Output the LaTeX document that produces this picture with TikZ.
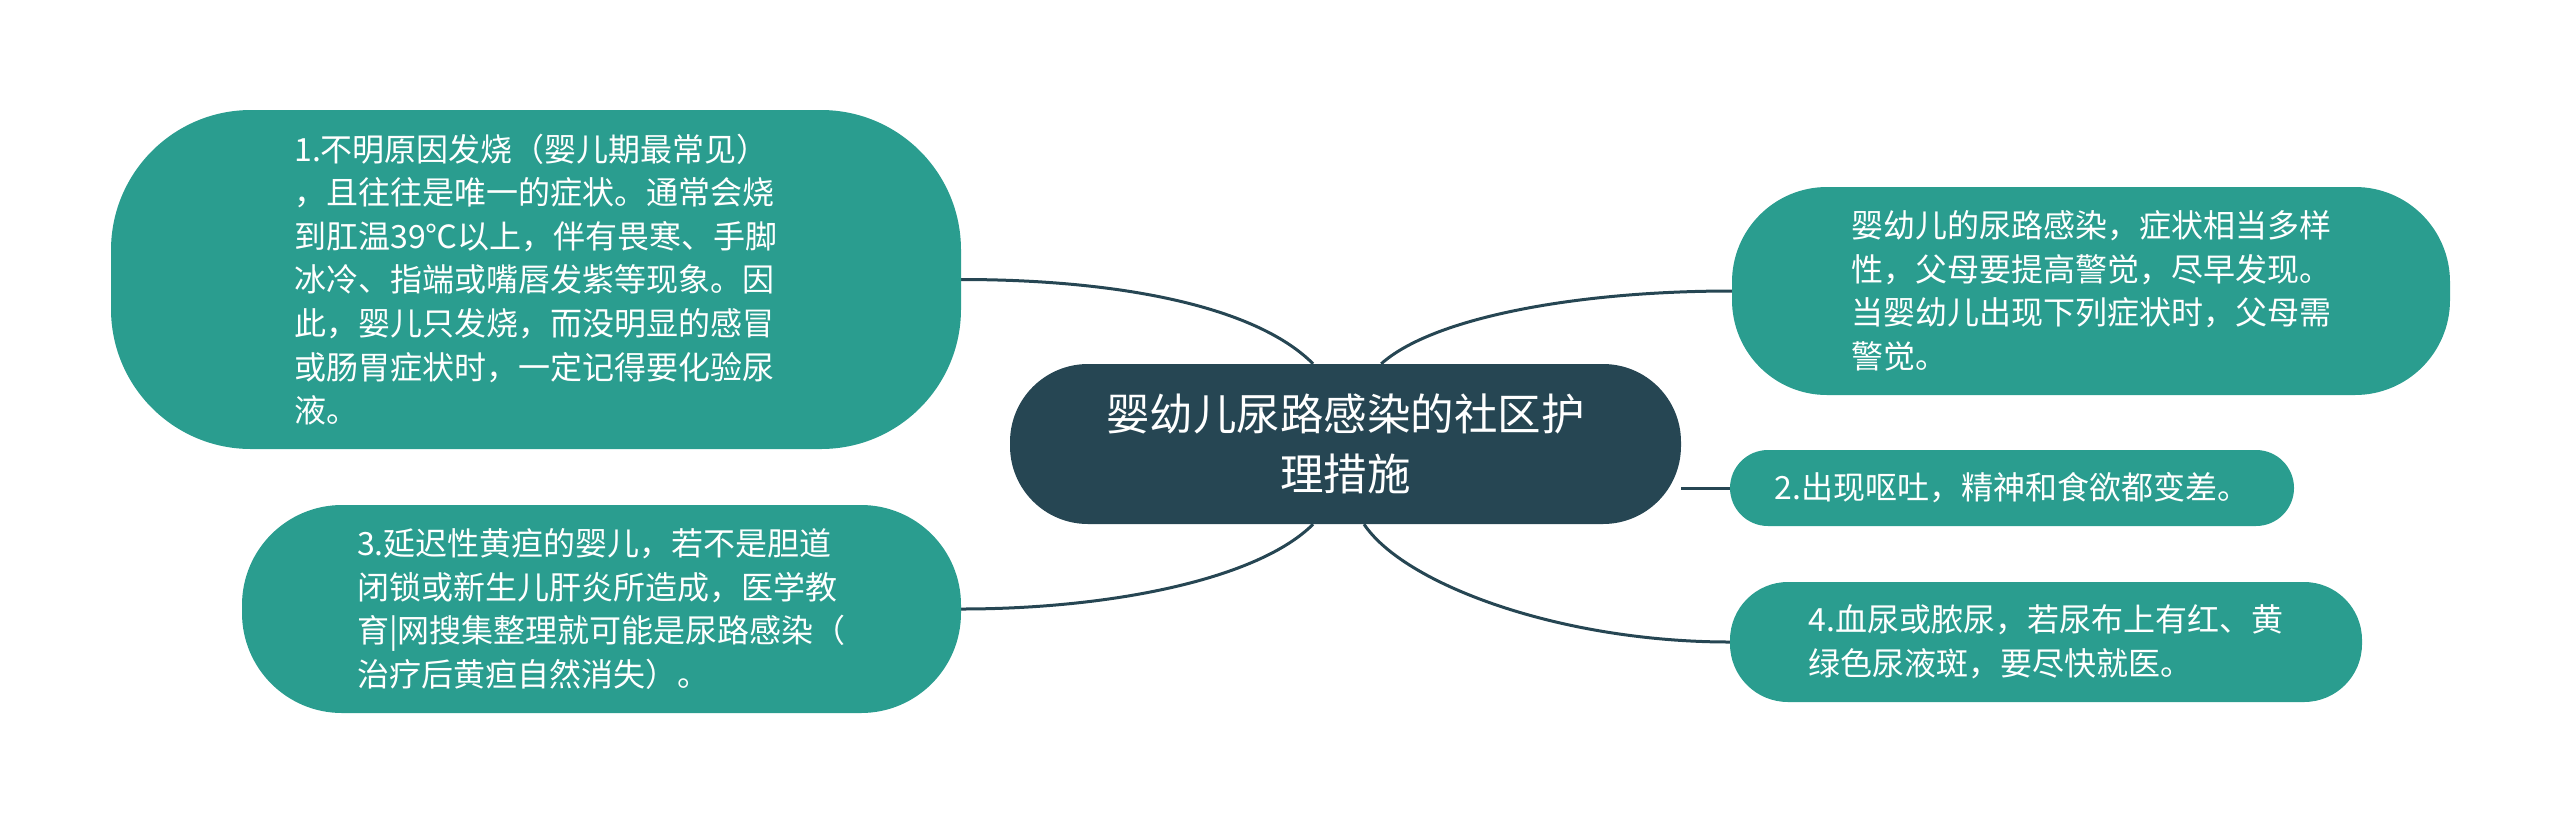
\documentclass[tikz,border=0pt]{standalone}
\usepackage{fontspec}
\newfontfamily\cjk{Noto Sans CJK SC}
\usetikzlibrary{backgrounds}
\definecolor{teal}{HTML}{2A9D8F}
\definecolor{deep}{HTML}{264653}
\tikzset{
  leaf/.style={draw=none, fill=teal, text=white, inner sep=0pt, align=left,
    font=\cjk\fontsize{32}{43.6}\selectfont},
  root/.style={draw=none, fill=deep, text=white, inner sep=0pt, align=center,
    font=\cjk\fontsize{43.5}{60}\selectfont},
  conn/.style={draw=deep, line width=3pt}
}
\begin{document}
\begin{tikzpicture}[x=1pt,y=1pt]
\useasboundingbox (0,0) rectangle (2560,-823);
\node[root, minimum width=671pt, minimum height=160pt, rounded corners=78pt] (c) at (1345.5,-444)
  {婴幼儿尿路感染的社区护\\理措施};
\node[leaf, minimum width=850pt, minimum height=339pt, rounded corners=140pt] (n1) at (536,-279.5)
  {1.不明原因发烧（婴儿期最常见）\\，且往往是唯一的症状。通常会烧\\到肛温39℃以上，伴有畏寒、手脚\\冰冷、指端或嘴唇发紫等现象。因\\此，婴儿只发烧，而没明显的感冒\\或肠胃症状时，一定记得要化验尿\\液。};
\node[leaf, minimum width=719pt, minimum height=208pt, rounded corners=100pt] (n3) at (601.5,-609)
  {3.延迟性黄疸的婴儿，若不是胆道\\闭锁或新生儿肝炎所造成，医学教\\育|网搜集整理就可能是尿路感染（\\治疗后黄疸自然消失）。};
\node[leaf, minimum width=718pt, minimum height=208pt, rounded corners=95pt] (tr) at (2091,-291)
  {婴幼儿的尿路感染，症状相当多样\\性，父母要提高警觉，尽早发现。\\当婴幼儿出现下列症状时，父母需\\警觉。};
\node[leaf, minimum width=564pt, minimum height=76pt, rounded corners=38pt] (n2) at (2012,-488)
  {2.出现呕吐，精神和食欲都变差。};
\node[leaf, minimum width=632pt, minimum height=120pt, rounded corners=58pt] (n4) at (2046,-642)
  {4.血尿或脓尿，若尿布上有红、黄\\绿色尿液斑，要尽快就医。};
\begin{pgfonlayer}{background}
\draw[conn] (c.112) .. controls +(-60,60) and +(150,0) .. (n1.east);
\draw[conn] (c.248) .. controls +(-55,-55) and +(150,0) .. (n3.east);
\draw[conn] (c.66.7) .. controls +(50,45) and +(-160,0) .. (tr.west);
\draw[conn] (c.283) .. controls +(40,-60) and +(-170,0) .. (n4.west);
\draw[conn] (c.east |- n2.west) -- (n2.west);
\end{pgfonlayer}
\end{tikzpicture}
\end{document}
